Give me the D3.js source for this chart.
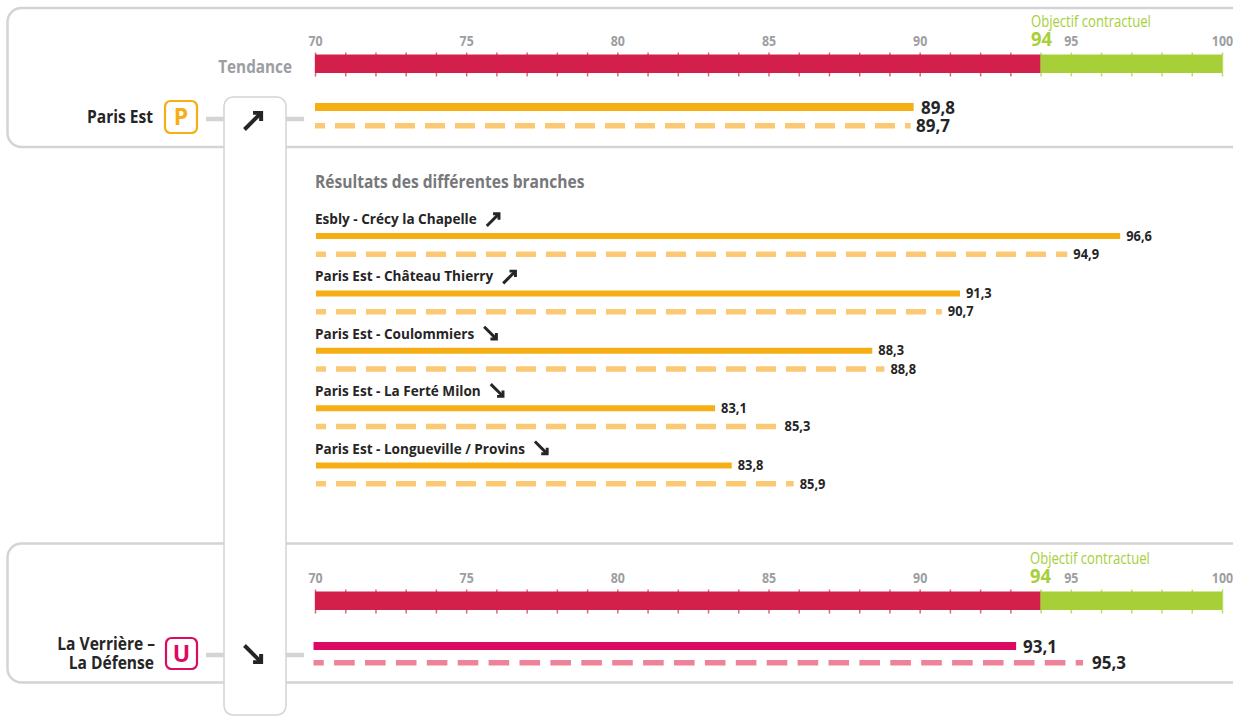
<!DOCTYPE html>
<html>
<head>
<meta charset="utf-8">
<script src="https://cdn.jsdelivr.net/npm/d3@7"></script>
<style>
  html, body {margin: 0; padding: 0; background: #fff; overflow: hidden;}
  text {font-family: "Open Sans", sans-serif;}
</style>
</head>
<body>
<div id="wrapper"></div>
<script>
const axisTicks = d3.range(70, 101)
const objective = 94

const lineNames = ["Paris Est", "La Verrière – La Défense"]
const lineCurrent = [89.8, 93.1]
const linePrevious = [89.7, 95.3]
const lineTrend = ["up", "down"]

const branchNames = ["Esbly - Crécy la Chapelle", "Paris Est - Château Thierry", "Paris Est - Coulommiers", "Paris Est - La Ferté Milon", "Paris Est - Longueville / Provins"]
const branchCurrent = [96.6, 91.3, 88.3, 83.1, 83.8]
const branchPrevious = [94.9, 90.7, 88.8, 85.3, 85.9]
const branchTrend = ["up", "up", "down", "down", "down"]
// bar ends, the printed figures above don't land exactly on the scale
const branchCurrentDrawn = [96.6, 91.3, 88.4, 83.2, 83.75]
const branchPreviousDrawn = [94.85, 90.7, 88.8, 85.3, 85.8]

const width = 1233, height = 716
const grey = "#d4d4d5", red = "#d2204a", green = "#a6cf38", orange = "#f5ae14", orangeDash = "#fbc974"
const pink = "#dd0a62", pinkDash = "#ee8298", dark = "#262526", tickGrey = "#9c9ea1"

const svg = d3.select("#wrapper").append("svg")
    .attr("width", width)
    .attr("height", height)
    .style("display", "block")

const xScale = d3.scaleLinear().domain([70, 100]).range([315, 1222])
const xBranch = d3.scaleLinear().domain([70, 100]).range([316, 1223])
// the lower panel's result bars run on a slightly wider scale than its axis
const xLower = d3.scaleLinear().domain([70, 100]).range([313.5, 1226])

const fr = d => String(d).replace(".", ",")

// no condensed face installed, so squeeze the text horizontally
function label(x, y, str, size, fill, opts = {}) {
  const k = opts.k || 0.89
  return svg.append("text")
      .attr("transform", `translate(${x},${y}) scale(${k},1)`)
      .attr("text-anchor", opts.anchor || "start")
      .attr("fill", fill)
      .attr("font-size", size)
      .attr("font-weight", opts.weight || "bold")
      .text(str)
}

function panel(y, h) {
  svg.append("rect")
      .attr("x", 7.5).attr("y", y)
      .attr("width", 1240).attr("height", h)
      .attr("rx", 14)
      .attr("fill", "#fff").attr("stroke", grey).attr("stroke-width", 2.5)
}

function gauge(top, objX) {
  const axis = d3.axisTop(xScale)
      .tickValues(axisTicks)
      .tickSize(24)
      .tickSizeOuter(0)
      .tickPadding(7)
      .tickFormat(d => d % 5 === 0 ? d : "")
  const g = svg.append("g").attr("transform", `translate(0,${top + 22})`).call(axis)
  g.select(".domain").remove()
  g.selectAll(".tick line")
      .attr("stroke", d => d < objective ? "#e0607f" : "#bcdc6a")
      .attr("stroke-width", 1.5)
  g.selectAll(".tick text")
      .attr("fill", tickGrey)
      .attr("font-size", 13.5)
      .attr("font-weight", "bold")
      .attr("font-family", null)
      .attr("transform", "scale(0.92,1)")

  svg.append("rect")
      .attr("x", xScale(70)).attr("y", top)
      .attr("width", xScale(objective) - xScale(70)).attr("height", 18.5)
      .attr("fill", red)
  svg.append("rect")
      .attr("x", xScale(objective)).attr("y", top)
      .attr("width", xScale(100) - xScale(objective)).attr("height", 18.5)
      .attr("fill", green)

  label(objX, top - 28, "Objectif contractuel", 15.5, green, {k: 0.845, weight: "normal"})
  label(objX, top - 8.5, objective, 20, green, {k: 0.92})
}

function arrow(cx, cy, dir, s) {
  const sy = dir === "up" ? 1 : -1
  const g = svg.append("g").attr("transform", `translate(${cx},${cy}) scale(1,${sy})`)
      .attr("fill", "none").attr("stroke", dark).attr("stroke-width", s * 0.42)
  g.append("path").attr("d", `M${-s},${s}L${s * 0.7},${-s * 0.7}`)
  g.append("path").attr("d", `M${-s * 0.1},${-s * 0.75}L${s * 0.75},${-s * 0.75}L${s * 0.75},${s * 0.1}`)
}

function resultBar(x, value, y, h, colour, dashed, dash) {
  const line = svg.append("line")
      .attr("x1", x(70)).attr("x2", x(value))
      .attr("y1", y + h / 2).attr("y2", y + h / 2)
      .attr("stroke", colour).attr("stroke-width", h)
  if (dashed) {
    line.attr("stroke-dasharray", dash.join(" ")).attr("stroke-dashoffset", dash[0] / 2)
  }
}

function valueLabel(x, y, value, size) {
  label(x, y, fr(value), size, dark, {k: 0.92})
}

function badge(x, y, w, h, colour, letter) {
  svg.append("rect")
      .attr("x", x).attr("y", y).attr("width", w).attr("height", h)
      .attr("rx", 5.5)
      .attr("fill", "#fff").attr("stroke", colour).attr("stroke-width", 2.2)
  label(x + w / 2, y + h / 2 + 8, letter, 23, colour, {k: 1, anchor: "middle"})
}

function connector(y) {
  svg.append("line")
      .attr("x1", 206).attr("x2", 304)
      .attr("y1", y).attr("y2", y)
      .attr("stroke", grey).attr("stroke-width", 4.5)
}

panel(8, 139)
panel(543.5, 139)

connector(119)
connector(655)

// trend column sits on top of both panels
svg.append("rect")
    .attr("x", 224).attr("y", 97)
    .attr("width", 62).attr("height", 618)
    .attr("rx", 9)
    .attr("fill", "#fff").attr("stroke", grey).attr("stroke-width", 1.5)

gauge(54.5, 1031)
gauge(591.5, 1030)

label(292, 73, "Tendance", 18, tickGrey, {k: 0.85, anchor: "end"})

// Paris Est
label(153, 123, lineNames[0], 17.5, dark, {anchor: "end"})
badge(165, 101, 32, 32, orange, "P")
arrow(254, 120, lineTrend[0], 9.5)
resultBar(xScale, lineCurrent[0], 103, 8, orange, false)
resultBar(xScale, linePrevious[0], 123, 5.5, orangeDash, true, [20, 10])
valueLabel(921, 113.5, lineCurrent[0], 18.5)
valueLabel(916, 132, linePrevious[0], 18.5)

// La Verrière
const lowerName = lineNames[1].split(" – ")
label(155, 650, lowerName[0] + " –", 17.5, dark, {anchor: "end"})
label(154, 669, lowerName[1], 17.5, dark, {anchor: "end"})
badge(166, 638, 31, 31, pink, "U")
arrow(254, 655, lineTrend[1], 9.5)
resultBar(xLower, lineCurrent[1], 642, 8, pink, false)
resultBar(xLower, linePrevious[1], 660, 5.5, pinkDash, true, [20.6, 10.3])
valueLabel(1023, 652.5, lineCurrent[1], 18.5)
valueLabel(1092, 669, linePrevious[1], 18.5)

// branches
label(315, 187.5, "Résultats des différentes branches", 17.5, "#77787b")

const rowY = d3.scaleLinear().domain([0, 4]).range([233, 462.5])

branchNames.forEach((name, i) => {
  const y = rowY(i)
  const t = label(315, y - 9, name, 15, dark, {k: 0.905})
  arrow(315 + t.node().getComputedTextLength() * 0.905 + 17, y - 14, branchTrend[i], 7)
  resultBar(xBranch, branchCurrentDrawn[i], y, 6, orange, false)
  resultBar(xBranch, branchPreviousDrawn[i], y + 18.5, 5.5, orangeDash, true, [20, 10])
  valueLabel(xBranch(branchCurrentDrawn[i]) + 6, y + 7.5, branchCurrent[i], 14)
  valueLabel(xBranch(branchPreviousDrawn[i]) + 6, y + 26, branchPrevious[i], 14)
})
</script>
</body>
</html>
